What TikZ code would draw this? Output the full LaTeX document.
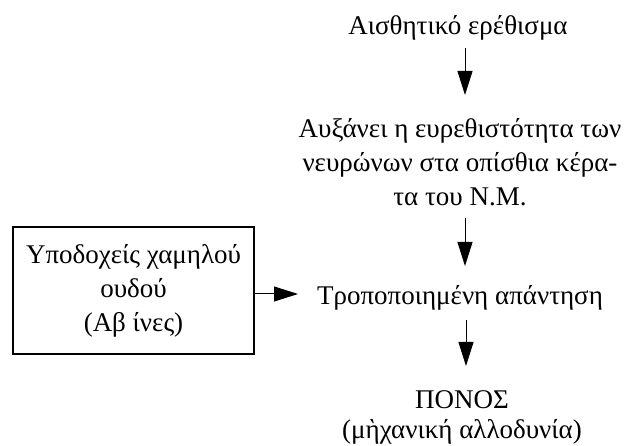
\documentclass[tikz,border=0pt]{standalone}
\usepackage{fontspec}
\setmainfont{Liberation Serif}
\usetikzlibrary{arrows.meta}
\begin{document}
\begin{tikzpicture}[x=1pt,y=-1pt,
  lbl/.style={font=\fontsize{27}{34}\selectfont, align=center, inner sep=0pt},
  flow/.style={line width=1pt, -{Triangle[length=24pt,width=15pt]}},
  frame/.style={draw, line width=1.4pt, minimum width=241pt, minimum height=127pt}]
\useasboundingbox (0,0) rectangle (633,446);
% text blocks
\node[lbl, anchor=base] (stim) at (458,35) {Αισθητικό ερέθισμα};
\node[lbl] (incr) at (460,162) {Αυξάνει η ευρεθιστότητα των\\νευρώνων στα οπίσθια κέρα-\\τα του Ν.Μ.};
\node[lbl, frame] (low) at (133.5,290.5) {Υποδοχείς χαμηλού\\ουδού\\(Αβ ίνες)};
\node[lbl, anchor=base] (resp) at (460,305) {Τροποποιημένη απάντηση};
\node[lbl, font=\fontsize{27}{30}\selectfont] (pain) at (462,417) {ΠΟΝΟΣ\\(μὴχανική αλλοδυνία)};
% arrow start points under each text
\coordinate (a1) at (465,48);
\coordinate (a2) at (465,218);
\coordinate (a3) at (466,320);
% connectors
\draw[flow] (a1) -- ++(0,47);
\draw[flow] (a2) -- ++(0,48);
\draw[flow] (a3) -- ++(0,46);
\draw[flow] ([yshift=-3.5pt]low.east) -- ([yshift=-3.5pt]low.east -| 298,0);
\end{tikzpicture}
\end{document}
